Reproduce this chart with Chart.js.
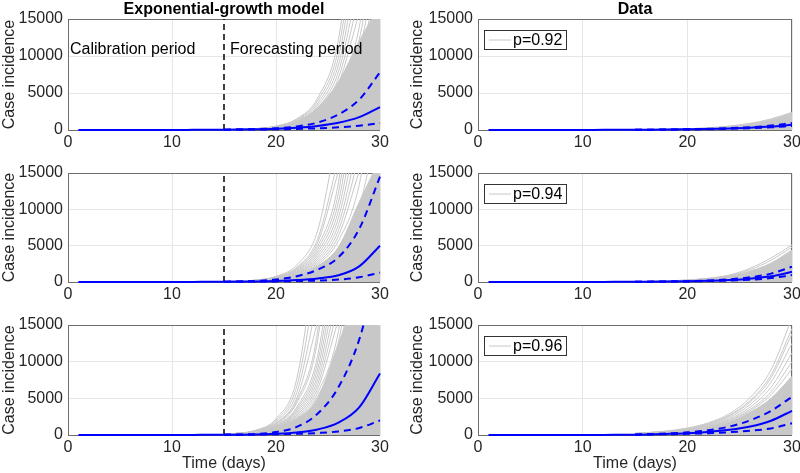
<!DOCTYPE html>
<html>
<head>
<meta charset="utf-8">
<script src="https://cdn.jsdelivr.net/npm/chart.js@4.4.0/dist/chart.umd.min.js"></script>
<style>
    body { margin: 0; background: #fff; }
    #wrap { position: relative; width: 800px; height: 473px; overflow: hidden; }
    canvas { position: absolute; }
</style>
</head>
<body>
<div id="wrap">
    <canvas id="m92" width="400" height="152" style="left:0px;top:0px"></canvas>
    <canvas id="d92" width="400" height="152" style="left:400px;top:0px"></canvas>
    <canvas id="m94" width="400" height="152" style="left:0px;top:150px"></canvas>
    <canvas id="d94" width="400" height="152" style="left:400px;top:150px"></canvas>
    <canvas id="m96" width="400" height="173" style="left:0px;top:300px"></canvas>
    <canvas id="d96" width="400" height="173" style="left:400px;top:300px"></canvas>
</div>
<script>
// calibration period (days 1-15) and forecast sample days
var aCalibDays = [1, 2, 3, 4, 5, 6, 7, 8, 9, 10, 11, 12, 13, 14, 15];
var aCalibValues = [1, 1, 2, 2, 3, 4, 5, 6, 8, 10, 13, 17, 22, 29, 38];
var aDays = [15, 18, 20, 22, 24, 26, 28, 30];
var aSplitDay = [15, 15];
var aSplitRange = [0, 15000];

// exponential-growth model, p=0.92
var aModelMedian92 = [40, 95, 170, 305, 544, 971, 1736, 3100];
var aModelUpper92 = [40, 110, 220, 480, 1000, 2100, 4100, 7800];
var aModelLower92 = [40, 70, 100, 150, 230, 360, 580, 950];
var aModelBand92 = [40, 160, 420, 1100, 3000, 6500, 12000, 17000];
var aModelRuns92 = [
    [40, 190, 538, 1524, 4311, 12200, 34500],
    [40, 185, 512, 1420, 3940, 10930, 30300],
    [40, 179, 487, 1325, 3600, 9790, 26600],
    [40, 174, 464, 1235, 3290, 8770, 23370],
    [40, 169, 441, 1152, 3008, 7854, 20510],
    [40, 164, 420, 1073, 2749, 7036, 18010],
    [40, 159, 399, 1001, 2512, 6300, 15800],
    [40, 154, 380, 933, 2296, 5645, 13890, 34170],
    [40, 150, 361, 871, 2100, 5058, 12200, 29400],
    [40, 145, 343, 811, 1918, 4530, 10700, 25300],
    [40, 141, 327, 757, 1753, 4060, 9402, 21800],
    [40, 137, 311, 706, 1602, 3636, 8256, 18760],
    [40, 129, 281, 613, 1338, 2918, 6370, 13890],
    [40, 121, 254, 533, 1118, 2343, 4918, 10290],
    [40, 114, 230, 464, 933, 1880, 3785, 7620],
    [40, 104, 198, 376, 713, 1350, 2565, 4860],
    [40, 93, 162, 284, 497, 871, 1524, 2667],
    [40, 77, 120, 187, 290, 450, 698, 1085]
];

// exponential-growth model, p=0.94
var aModelMedian94 = [40, 85, 150, 270, 490, 920, 2150, 5000];
var aModelUpper94 = [40, 150, 350, 800, 1700, 3400, 7300, 14500];
var aModelLower94 = [40, 60, 85, 130, 200, 330, 650, 1300];
var aModelBand94 = [50, 200, 450, 900, 2200, 4800, 11000, 17000];
var aModelRuns94 = [
    [50, 260, 782, 2350, 7060, 21200],
    [50, 245, 708, 2043, 5900, 17000],
    [50, 238, 673, 1905, 5390, 15250],
    [50, 231, 640, 1775, 4925, 13660, 37900],
    [50, 224, 609, 1656, 4500, 12240, 33250],
    [50, 218, 580, 1544, 4110, 10960, 29200],
    [50, 211, 551, 1440, 3760, 9818, 25640],
    [50, 205, 525, 1341, 3436, 8795, 22500],
    [50, 199, 499, 1251, 3140, 7875, 19750],
    [50, 193, 475, 1166, 2870, 7056, 17360],
    [50, 187, 451, 1089, 2625, 6323, 15250],
    [50, 181, 429, 1014, 2398, 5663, 13380, 31600],
    [50, 171, 389, 883, 2003, 4545, 10320, 23450],
    [50, 161, 351, 766, 1673, 3648, 7963, 17360],
    [50, 151, 318, 666, 1398, 2929, 6148, 12860],
    [50, 143, 288, 580, 1166, 2350, 4731, 9525],
    [50, 130, 248, 470, 891, 1688, 3206, 6075],
    [50, 116, 203, 355, 621, 1089, 1905, 3334],
    [50, 96, 150, 234, 363, 563, 873, 1356]
];

// exponential-growth model, p=0.96
var aModelMedian96 = [30, 75, 154, 342, 762, 1696, 3775, 8400];
var aModelUpper96 = [30, 150, 400, 1100, 2900, 6500, 13000, 24000];
var aModelLower96 = [30, 60, 100, 160, 270, 480, 950, 2000];
var aModelBand96 = [100, 400, 1000, 2200, 5000, 12500, 20000, 30000];
var aModelRuns96 = [
    [100, 642, 2220, 7670, 26500],
    [100, 605, 2009, 6669, 22140],
    [100, 570, 1820, 5800, 18500],
    [100, 537, 1644, 5040, 15450],
    [100, 521, 1564, 4700, 14120, 42400],
    [100, 505, 1488, 4380, 12900, 38000],
    [100, 476, 1346, 3810, 10780, 30500],
    [100, 462, 1281, 3550, 9850, 27300],
    [100, 448, 1218, 3312, 9000, 24470],
    [100, 435, 1159, 3088, 8225, 21920],
    [100, 422, 1102, 2880, 7520, 19640],
    [100, 410, 1050, 2683, 6873, 17590],
    [100, 397, 997, 2503, 6280, 15750],
    [100, 385, 950, 2333, 5740, 14110, 34730],
    [100, 374, 903, 2178, 5250, 12650, 30500],
    [100, 363, 858, 2028, 4795, 11330, 26750],
    [100, 342, 778, 1765, 4005, 9090, 20640],
    [100, 322, 703, 1533, 3345, 7295, 15925],
    [100, 303, 635, 1333, 2795, 5858, 12295, 25725],
    [100, 286, 575, 1160, 2333, 4700, 9463, 19050],
    [100, 269, 521, 1007, 1950, 3770, 7300, 14100],
    [100, 246, 448, 817, 1490, 2710, 4940, 9000],
    [100, 212, 349, 575, 949, 1560, 2580, 4250],
    [100, 172, 246, 353, 505, 724, 1040, 1490]
];

// data panels
var aDataMedian92 = [30, 55, 85, 130, 200, 300, 460, 700];
var aDataUpper92 = [30, 65, 100, 160, 250, 380, 600, 950];
var aDataLower92 = [30, 45, 70, 105, 160, 240, 360, 550];
var aDataBand92 = [40, 90, 160, 280, 500, 850, 1400, 2300];
var aDataRuns92 = [
    [40, 95, 170, 300, 530, 900, 1500, 2400]
];

var aDataMedian94 = [30, 60, 100, 170, 280, 460, 780, 1400];
var aDataUpper94 = [30, 70, 120, 210, 370, 650, 1150, 2100];
var aDataLower94 = [30, 50, 80, 130, 200, 320, 540, 950];
var aDataBand94 = [40, 130, 250, 460, 850, 1500, 2600, 4400];
var aDataRuns94 = [
    [40, 150, 280, 520, 950, 1900, 3300, 5100],
    [40, 140, 265, 490, 900, 1700, 3000, 4800]
];

var aDataMedian96 = [60, 150, 250, 420, 700, 1150, 1950, 3300];
var aDataUpper96 = [60, 200, 360, 650, 1150, 2000, 3300, 5200];
var aDataLower96 = [50, 100, 160, 250, 380, 580, 900, 1600];
var aDataBand96 = [150, 380, 650, 1100, 1800, 3100, 5000, 8000];
var aDataRuns96 = [
    [230, 540, 950, 1660, 2900, 5100, 8900, 16000],
    [220, 510, 890, 1550, 2700, 4700, 8200, 14500],
    [210, 490, 850, 1480, 2580, 4500, 7800, 13800],
    [200, 460, 800, 1380, 2400, 4150, 7200, 12500],
    [180, 430, 740, 1280, 2200, 3800, 6500, 11200],
    [170, 410, 700, 1200, 2050, 3500, 5900, 10000],
    [160, 390, 670, 1150, 1950, 3300, 5500, 9000]
];

var sFont = '"Liberation Sans", Arial, Helvetica, sans-serif';
var sGrey = 'rgb(200, 200, 200)';
var sBlue = '#0000ff';

var oFigure = {
    init: function () {
        Chart.defaults.font.family = sFont;
        var aPanels = [
            {id: 'm92', median: aModelMedian92, upper: aModelUpper92, lower: aModelLower92, band: aModelBand92, runs: aModelRuns92,
             split: true, notes: true, title: 'Exponential-growth model', legend: null, xTitle: false, left: true, padTop: 19, xH: 22},
            {id: 'd92', median: aDataMedian92, upper: aDataUpper92, lower: aDataLower92, band: aDataBand92, runs: aDataRuns92,
             split: false, notes: false, title: 'Data', legend: 'p=0.92', xTitle: false, left: false, padTop: 19, xH: 22},
            {id: 'm94', median: aModelMedian94, upper: aModelUpper94, lower: aModelLower94, band: aModelBand94, runs: aModelRuns94,
             split: true, notes: false, title: null, legend: null, xTitle: false, left: true, padTop: 23, xH: 20},
            {id: 'd94', median: aDataMedian94, upper: aDataUpper94, lower: aDataLower94, band: aDataBand94, runs: aDataRuns94,
             split: false, notes: false, title: null, legend: 'p=0.94', xTitle: false, left: false, padTop: 23, xH: 20},
            {id: 'm96', median: aModelMedian96, upper: aModelUpper96, lower: aModelLower96, band: aModelBand96, runs: aModelRuns96,
             split: true, notes: false, title: null, legend: null, xTitle: true, left: true, padTop: 25, xH: 38},
            {id: 'd96', median: aDataMedian96, upper: aDataUpper96, lower: aDataLower96, band: aDataBand96, runs: aDataRuns96,
             split: false, notes: false, title: null, legend: 'p=0.96', xTitle: true, left: false, padTop: 25, xH: 38}
        ];
        for (var i = 0; i < aPanels.length; i++) {
            oFigure.drawPanel(aPanels[i]);
        }
    },

    toPoints: function (aX, aY) {
        var aPoints = [];
        for (var i = 0; i < aY.length && i < aX.length; i++) {
            aPoints.push({x: aX[i], y: aY[i]});
        }
        return aPoints;
    },

    lineSet: function (aData, sColor, iWidth, aDash, iOrder) {
        return {
            data: aData,
            borderColor: sColor,
            borderWidth: iWidth,
            borderDash: aDash,
            pointRadius: 0,
            fill: false,
            cubicInterpolationMode: 'monotone',
            order: iOrder,
            // curves near zero may spill a little below the axis, like the original
            clip: {left: 0, top: 0, right: 1, bottom: 3}
        };
    },

    buildDatasets: function (oPanel) {
        var aSets = [];
        var oBand = oFigure.lineSet(oFigure.toPoints(aDays, oPanel.band), sGrey, 1, [], 5);
        oBand.fill = 'origin';
        oBand.backgroundColor = sGrey;
        aSets.push(oBand);
        for (var i = 0; i < oPanel.runs.length; i++) {
            aSets.push(oFigure.lineSet(oFigure.toPoints(aDays, oPanel.runs[i]), sGrey, 1, [], 4));
        }
        var aMedian = oFigure.toPoints(aCalibDays, aCalibValues).concat(oFigure.toPoints(aDays, oPanel.median).slice(1));
        aSets.push(oFigure.lineSet(oFigure.toPoints(aDays, oPanel.upper), sBlue, 2, [7, 5], 1));
        aSets.push(oFigure.lineSet(oFigure.toPoints(aDays, oPanel.lower), sBlue, 2, [7, 5], 1));
        aSets.push(oFigure.lineSet(aMedian, sBlue, 2, [], 0));
        if (oPanel.split) {
            var oSplit = oFigure.lineSet(oFigure.toPoints(aSplitDay, aSplitRange), '#000', 1.5, [6, 4], 0);
            oSplit.cubicInterpolationMode = 'default';
            aSets.push(oSplit);
        }
        return aSets;
    },

    decorations: function (oPanel) {
        return {
            id: 'decor' + oPanel.id,
            beforeDatasetsDraw: function (chart) {
                // axes box sits under the curves, as in the original
                var ctx = chart.ctx;
                var a = chart.chartArea;
                ctx.save();
                ctx.strokeStyle = '#6e6e6e';
                ctx.lineWidth = 1;
                ctx.strokeRect(Math.round(a.left) + 0.5, Math.round(a.top) + 0.5,
                    Math.round(a.right - a.left) - 1, Math.round(a.bottom - a.top));
                ctx.restore();
            },
            afterDraw: function (chart) {
                var ctx = chart.ctx;
                var a = chart.chartArea;
                ctx.save();
                ctx.fillStyle = '#000';
                if (oPanel.title) {
                    ctx.font = 'bold 16px ' + sFont;
                    ctx.textAlign = 'center';
                    ctx.textBaseline = 'alphabetic';
                    ctx.fillText(oPanel.title, (a.left + a.right) / 2, 14);
                }
                if (oPanel.notes) {
                    ctx.font = '16px ' + sFont;
                    ctx.textAlign = 'left';
                    ctx.textBaseline = 'alphabetic';
                    ctx.fillText('Calibration period', a.left + 2, a.top + 35);
                    ctx.fillText('Forecasting period', a.left + 162, a.top + 35);
                }
                if (oPanel.legend) {
                    var x0 = a.left + 6, y0 = a.top + 11;
                    ctx.fillStyle = '#fff';
                    ctx.fillRect(x0, y0, 82, 19);
                    ctx.strokeStyle = '#333';
                    ctx.lineWidth = 1;
                    ctx.strokeRect(x0 + 0.5, y0 + 0.5, 82, 19);
                    ctx.strokeStyle = sGrey;
                    ctx.beginPath();
                    ctx.moveTo(x0 + 5, y0 + 10);
                    ctx.lineTo(x0 + 27, y0 + 10);
                    ctx.stroke();
                    ctx.fillStyle = '#000';
                    ctx.font = '16px ' + sFont;
                    ctx.textAlign = 'left';
                    ctx.textBaseline = 'middle';
                    ctx.fillText(oPanel.legend, x0 + 29, y0 + 10.5);
                }
                ctx.restore();
            }
        };
    },

    drawPanel: function (oPanel) {
        var iYW = oPanel.left ? 68 : 78;
        var iXH = oPanel.xH;
        var oTickFont = {family: sFont, size: 16};
        new Chart(document.getElementById(oPanel.id), {
            type: 'line',
            data: {datasets: oFigure.buildDatasets(oPanel)},
            plugins: [oFigure.decorations(oPanel)],
            options: {
                responsive: false,
                animation: false,
                events: [],
                layout: {padding: {left: 0, right: oPanel.left ? 20 : 8, top: oPanel.padTop, bottom: 0}},
                plugins: {legend: {display: false}, tooltip: {enabled: false}},
                scales: {
                    x: {
                        type: 'linear', min: 0, max: 30,
                        ticks: {stepSize: 10, padding: 3, color: '#262626', font: oTickFont, maxRotation: 0},
                        grid: {color: '#e6e6e6', drawTicks: false},
                        border: {display: false},
                        title: {display: oPanel.xTitle, text: 'Time (days)', color: '#262626', font: oTickFont, padding: 0},
                        afterFit: function (s) { s.height = iXH; s.paddingLeft = 0; s.paddingRight = 0; }
                    },
                    y: {
                        type: 'linear', min: 0, max: 15000,
                        ticks: {
                            stepSize: 5000, padding: 5, color: '#262626', font: oTickFont,
                            callback: function (v) { return String(v); }
                        },
                        grid: {color: '#e6e6e6', drawTicks: false},
                        border: {display: false},
                        title: {display: true, text: 'Case incidence', color: '#262626', font: oTickFont,
                            padding: {top: oPanel.left ? 0 : 8, bottom: 0}},
                        afterFit: function (s) { s.width = iYW; }
                    }
                }
            }
        });
    }
};

oFigure.init();
</script>
</body>
</html>
